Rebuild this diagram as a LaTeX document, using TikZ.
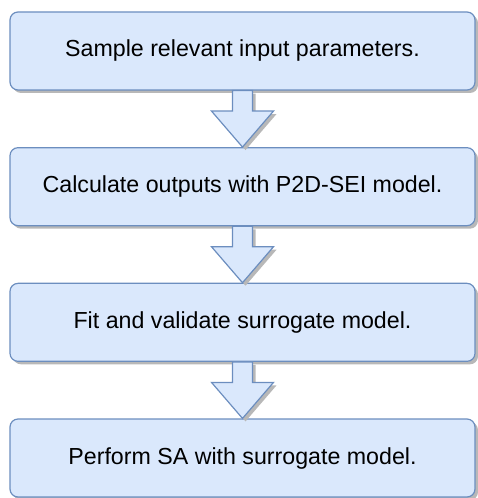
\documentclass[tikz,border=0pt]{standalone}
\usepackage{fontspec}
\setmainfont{Liberation Sans}
\usetikzlibrary{positioning,calc,shadows}
\definecolor{boxfill}{HTML}{DAE8FC}
\definecolor{boxline}{HTML}{6C8EBF}
\definecolor{shadowgray}{HTML}{B8B8B8}
\tikzstyle{process} = [rectangle, rounded corners=8pt, minimum width=465pt, minimum height=78pt, text centered, draw=boxline, line width=1.2pt, fill=boxfill, font=\fontsize{23.2}{27}\selectfont, drop shadow={shadow xshift=3pt, shadow yshift=-3pt, fill=shadowgray, opacity=1}]
\tikzstyle{bigarrow} = [draw=boxline, line width=1.2pt, fill=boxfill, line join=miter, drop shadow={shadow xshift=3pt, shadow yshift=-3pt, fill=shadowgray, opacity=1},
    to path={let \p1=(\tikztostart), \p2=(\tikztotarget) in
        (\x1-10pt,\y1) -- (\x1+10pt,\y1) -- (\x1+10pt,\y2+36pt) -- (\x1+31pt,\y2+36pt)
        -- (\x2,\y2) -- (\x1-31pt,\y2+36pt) -- (\x1-10pt,\y2+36pt) -- cycle}]

\begin{document}
\begin{tikzpicture}[x=1pt, y=1pt, node distance=135.67pt]
    \useasboundingbox (0,0) rectangle (477,498);

    % Steps
    \node (sample) [process] at (242.5,447) {Sample relevant input parameters.};
    \node (calc) [process, below of=sample] {Calculate outputs with P2D-SEI model.};
    \node (fit) [process, below of=calc] {Fit and validate surrogate model.};
    \node (sa) [process, below of=fit] {Perform SA with surrogate model.};

    % Block arrows
    \draw [bigarrow] (sample.south) to (calc.north);
    \draw [bigarrow] (calc.south) to (fit.north);
    \draw [bigarrow] (fit.south) to (sa.north);
\end{tikzpicture}
\end{document}
